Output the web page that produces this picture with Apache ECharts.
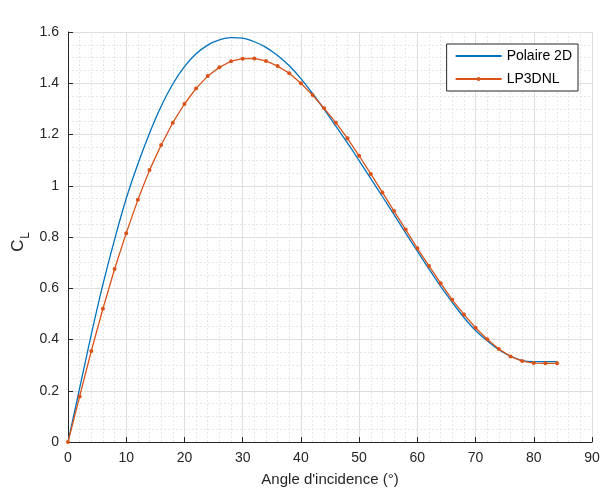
<!DOCTYPE html>
<html>
<head>
<meta charset="utf-8">
<script src="https://cdn.jsdelivr.net/npm/echarts@6/dist/echarts.min.js"></script>
<style>
html,body{margin:0;padding:0;background:#fff;}
#c{width:603px;height:498px;}
</style>
</head>
<body>
<div id="c"></div>
<script>
const angles = [0,2,4,6,8,10,12,14,16,18,20,22,24,26,28,30,32,34,36,38,40,42,44,46,48,50,52,54,56,58,60,62,64,66,68,70,72,74,76,78,80,82,84];
const polaire2D = [0,0.21,0.42,0.615,0.79,0.95,1.085,1.205,1.31,1.397,1.465,1.515,1.549,1.569,1.578,1.576,1.562,1.54,1.508,1.468,1.418,1.36,1.298,1.233,1.167,1.098,1.028,0.958,0.887,0.815,0.745,0.675,0.607,0.545,0.486,0.435,0.395,0.36,0.335,0.318,0.314,0.314,0.314];
const lp3dnl = [0,0.178,0.355,0.52,0.675,0.815,0.945,1.061,1.159,1.246,1.319,1.38,1.428,1.462,1.486,1.496,1.497,1.487,1.467,1.439,1.40,1.354,1.302,1.246,1.185,1.117,1.046,0.974,0.901,0.829,0.756,0.687,0.62,0.555,0.498,0.446,0.401,0.363,0.334,0.316,0.308,0.307,0.307];
const xTicks = [0,10,20,30,40,50,60,70,80,90];
const yTicks = [0,0.2,0.4,0.6,0.8,1,1.2,1.4,1.6];

const FONT = 'Liberation Sans, Arial, sans-serif';
const TXT = '#262626';
const chart = echarts.init(document.getElementById('c'), null, {renderer:'canvas'});
const zip = (xs, ys) => xs.map((x,i)=>[x, ys[i]]);
chart.setOption({
  animation:false,
  backgroundColor:'#ffffff',
  grid:{left:68, right:11, top:32, bottom:56, containLabel:false},
  legend:{
    orient:'vertical', right:25, top:44,
    backgroundColor:'#ffffff', borderColor:'#262626', borderWidth:1,
    padding:[5,6,5,8], itemGap:9, itemWidth:46, itemHeight:5,
    textStyle:{fontFamily:FONT, fontSize:14, color:'#000'},
    data:[
      {name:'Polaire 2D', itemStyle:{color:'rgba(0,0,0,0)', borderWidth:0}},
      {name:'LP3DNL'}
    ]
  },
  xAxis:{
    type:'value', min:xTicks[0], max:xTicks[xTicks.length-1], interval:10,
    name:"Angle d'incidence (°)", nameLocation:'middle', nameGap:30,
    nameTextStyle:{fontFamily:FONT, fontSize:15, color:TXT},
    axisLine:{show:true, onZero:false, lineStyle:{color:TXT, width:1}},
    axisTick:{show:true, inside:true, length:5, lineStyle:{color:TXT}},
    axisLabel:{fontFamily:FONT, fontSize:14, color:TXT, margin:9},
    splitLine:{show:true, lineStyle:{color:'#dedede', width:1}},
    minorTick:{show:false, splitNumber:5},
    minorSplitLine:{show:true, lineStyle:{color:'#e6e6e6', type:[2,2], width:1}}
  },
  yAxis:{
    type:'value', min:yTicks[0], max:yTicks[yTicks.length-1], interval:0.2,
    axisLine:{show:true, onZero:false, lineStyle:{color:TXT, width:1}},
    axisTick:{show:true, inside:true, length:5, lineStyle:{color:TXT}},
    axisLabel:{fontFamily:FONT, fontSize:14, color:TXT, margin:9},
    splitLine:{show:true, lineStyle:{color:'#dedede', width:1}},
    minorTick:{show:false, splitNumber:4},
    minorSplitLine:{show:true, lineStyle:{color:'#e6e6e6', type:[2,2], width:1}}
  },
  graphic:[{
    type:'group', left:10, top:232, rotation:Math.PI/2,
    children:[
      {type:'text', x:0, y:0, style:{text:'C', font:'17px '+FONT, fill:TXT}},
      {type:'text', x:13, y:10, style:{text:'L', font:'12px '+FONT, fill:TXT}}
    ]
  }],
  series:[
    {name:'Polaire 2D', type:'line', data:zip(angles, polaire2D), smooth:0.3,
     symbol:'none', lineStyle:{color:'#0072BD', width:1.3}, itemStyle:{color:'#0072BD'}},
    {name:'LP3DNL', type:'line', data:zip(angles, lp3dnl), smooth:false,
     symbol:'circle', symbolSize:4, lineStyle:{color:'#D95319', width:1.3}, itemStyle:{color:'#D95319'}}
  ]
});
</script>
</body>
</html>
